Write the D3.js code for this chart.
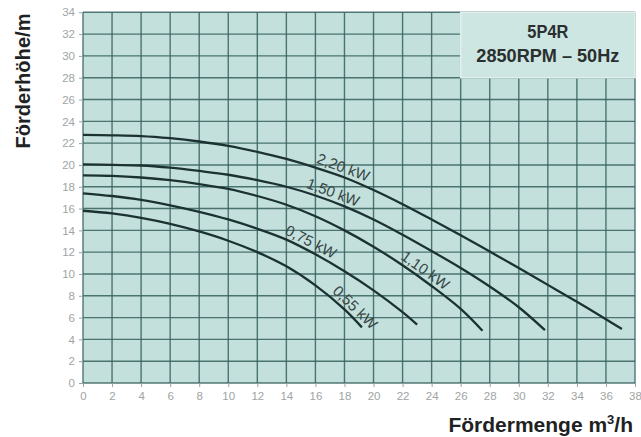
<!DOCTYPE html>
<html><head><meta charset="utf-8">
<script src="https://cdn.jsdelivr.net/npm/d3@7"></script>
<style>body{margin:0;background:#fff}svg{display:block}</style>
</head><body>
<svg id="c" width="641" height="437"></svg>
<script>
// ---- data ----
const xTicks = [0,2,4,6,8,10,12,14,16,18,20,22,24,26,28,30,32,34,36,38];
const yTicks = [0,2,4,6,8,10,12,14,16,18,20,22,24,26,28,30,32,34];

const q220 = [0,2,4,6,8,10,12,14,16,18,20,22,24,26,28,30,32,34,36,37.1];
const h220 = [22.75,22.72,22.65,22.45,22.15,21.75,21.2,20.55,19.75,18.85,17.7,16.4,15.0,13.55,12.05,10.55,9.0,7.45,5.85,4.95];

const q150 = [0,2,4,6,8,10,12,14,16,18,20,22,24,26,28,30,31.8];
const h150 = [20.05,20.0,19.95,19.75,19.45,19.1,18.6,18.0,17.2,16.2,15.0,13.6,12.1,10.55,8.85,6.95,4.85];

const q110 = [0,2,4,6,8,10,12,14,16,18,20,22,24,26,27.5];
const h110 = [19.05,19.0,18.85,18.6,18.25,17.8,17.15,16.35,15.3,14.0,12.5,10.8,8.9,6.8,4.8];

const q075 = [0,2,4,6,8,10,12,14,16,18,20,22,23];
const h075 = [17.4,17.15,16.8,16.3,15.7,15.0,14.15,13.15,11.8,10.25,8.5,6.5,5.35];

const q055 = [0,2,4,6,8,10,12,14,16,18,19.2];
const h055 = [15.8,15.55,15.15,14.6,13.9,13.05,12.0,10.7,8.95,6.75,5.1];

const seriesNames = ["2,20 kW","1,50 kW","1,10 kW","0,75 kW","0,55 kW"];
const labelQ = [17.7, 17.0, 23.2, 15.4, 18.3];

const titleLines = ["5P4R", "2850RPM \u2013 50Hz"];
const yTitle = "Förderhöhe/m";
const xTitle = "Fördermenge m";

// ---- chart ----
const svg = d3.select("#c");
const x = d3.scaleLinear().domain([0,38]).range([83,635]);
const y = d3.scaleLinear().domain([0,34]).range([383,12.3]);

const series = [[q220,h220],[q150,h150],[q110,h110],[q075,h075],[q055,h055]]
  .map((s,i)=>({name:seriesNames[i], pts:s[0].map((q,j)=>[q,s[1][j]]), lq:labelQ[i]}));

// plot background
svg.append("rect").attr("x",x(0)).attr("y",y(34)).attr("width",x(38)-x(0)).attr("height",y(0)-y(34))
  .attr("fill","#c3e0dc");

// grid
const grid = svg.append("g").attr("stroke","#36605e").attr("stroke-width",1.4).attr("stroke-opacity",0.85);
grid.selectAll("line.v").data(xTicks).join("line").attr("class","v")
  .attr("x1",d=>x(d)).attr("x2",d=>x(d)).attr("y1",y(0)).attr("y2",y(34));
grid.selectAll("line.h").data(yTicks).join("line").attr("class","h")
  .attr("y1",d=>y(d)).attr("y2",d=>y(d)).attr("x1",x(0)).attr("x2",x(38));

// title box
svg.append("rect").attr("x",x(26)).attr("y",y(34)).attr("width",x(38)-x(26)).attr("height",y(28)-y(34))
  .attr("fill","#cde6e2").attr("stroke","#e2efed").attr("stroke-width",1.5);
const tb = svg.append("g").attr("font-family","Liberation Sans, Arial, sans-serif").attr("font-weight","bold")
  .attr("fill","#2a2f2f").attr("text-anchor","middle");
tb.append("text").attr("x",(x(26)+x(38))/2).attr("y",38).attr("font-size",18).text(titleLines[0])
  .attr("textLength",41).attr("lengthAdjust","spacingAndGlyphs");
tb.append("text").attr("x",(x(26)+x(38))/2).attr("y",61.5).attr("font-size",19).text(titleLines[1])
  .attr("textLength",143).attr("lengthAdjust","spacingAndGlyphs");

// axes (ticks + labels)
const axY = svg.append("g").attr("transform",`translate(${x(0)},0)`)
  .call(d3.axisLeft(y).tickValues(yTicks).tickSize(4).tickPadding(4));
const axX = svg.append("g").attr("transform",`translate(0,${y(0)})`)
  .call(d3.axisBottom(x).tickValues(xTicks).tickSize(4).tickPadding(5));
[axX,axY].forEach(a=>{
  a.select(".domain").remove();
  a.selectAll(".tick line").attr("stroke","#9aa3a3");
  a.selectAll(".tick text").attr("fill","#a0a4a4").attr("font-size",11.5)
    .attr("font-family","Liberation Sans Narrow, Liberation Sans, Arial, sans-serif");
});

// curves
const line = d3.line().x(d=>x(d[0])).y(d=>y(d[1])).curve(d3.curveCatmullRom);
svg.append("g").selectAll("path").data(series).join("path")
  .attr("d",d=>line(d.pts)).attr("fill","none").attr("stroke","#1c3232").attr("stroke-width",2.3);

// labels along curves
function headAt(pts,q){
  for(let i=1;i<pts.length;i++){
    if(q<=pts[i][0]){const a=pts[i-1],b=pts[i];const t=(q-a[0])/(b[0]-a[0]);return a[1]+t*(b[1]-a[1]);}
  }
  return pts[pts.length-1][1];
}
const lab = svg.append("g").attr("font-family","Liberation Sans, Arial, sans-serif").attr("fill","#364545")
  .attr("font-size",15).attr("text-anchor","middle");
series.forEach(s=>{
  const px=x(s.lq), py=y(headAt(s.pts,s.lq));
  const p1=[x(s.lq-0.8),y(headAt(s.pts,s.lq-0.8))], p2=[x(s.lq+0.8),y(headAt(s.pts,s.lq+0.8))];
  const ang=Math.atan2(p2[1]-p1[1],p2[0]-p1[0])*180/Math.PI;
  lab.append("text").attr("transform",`translate(${px},${py}) rotate(${ang})`).attr("dy",-4)
    .attr("textLength",55).attr("lengthAdjust","spacingAndGlyphs").text(s.name);
});

// axis titles
svg.append("text").attr("transform",`translate(30,81) rotate(-90)`).attr("text-anchor","middle")
  .attr("font-family","Liberation Sans, Arial, sans-serif").attr("font-weight","bold").attr("font-size",21)
  .attr("fill","#1e2222").attr("textLength",135).attr("lengthAdjust","spacingAndGlyphs").text(yTitle);
const xt = svg.append("text").attr("x",633).attr("y",432).attr("text-anchor","end")
  .attr("font-family","Liberation Sans, Arial, sans-serif").attr("font-weight","bold").attr("font-size",21)
  .attr("fill","#1e2222");
xt.append("tspan").text(xTitle);
xt.append("tspan").attr("font-size",13).attr("dy",-8).text("3");
xt.append("tspan").attr("dy",8).text("/h");
</script>
</body></html>
